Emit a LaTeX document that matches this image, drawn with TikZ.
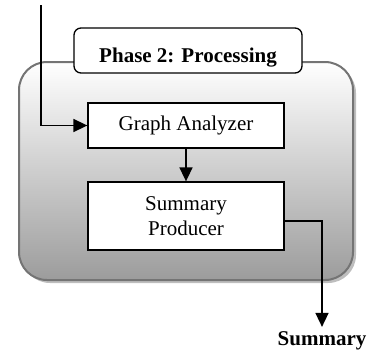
\documentclass[tikz,border=0pt]{standalone}
\usepackage{fontspec}
\setmainfont{Liberation Serif}
\usetikzlibrary{arrows.meta,calc}
\definecolor{phaseborder}{RGB}{116,116,116}
\definecolor{phasebottom}{RGB}{156,156,156}
\definecolor{phaseshadow}{RGB}{190,190,190}
\begin{document}
\begin{tikzpicture}[x=1pt,y=-1pt,
  every node/.style={font=\fontsize{21}{25}\selectfont},
  procbox/.style={draw=black,line width=1.3pt,fill=white,minimum width=196pt,inner sep=2pt},
  titlebox/.style={draw=black,line width=1.3pt,fill=white,rounded corners=7pt,
    minimum width=228pt,minimum height=45pt,inner sep=0pt,text height=28pt,text depth=5pt,
    font=\fontsize{21}{25}\selectfont\bfseries},
  flow/.style={line width=1.6pt,-{Triangle[length=14pt,width=13pt]}},
  plain/.style={line width=1.6pt}]
\useasboundingbox (0,0) rectangle (369,351);
% outer phase container
\fill[phaseshadow,rounded corners=28pt] (22,65) rectangle (356,283);
\shade[top color=white,bottom color=phasebottom,rounded corners=28pt] (19,62) rectangle (353,280);
\draw[phaseborder,line width=2pt,rounded corners=28pt] (19,62) rectangle (353,280);
% title
\node[titlebox] (title) at (188,50.5) {Phase 2: Processing};
% boxes
\node[procbox,minimum height=45pt] (ga) at (186,125.5) {Graph Analyzer};
\node[procbox,minimum height=68pt,align=center] (sp) at (186,216) {Summary\\Producer};
% output label
\node[anchor=base,inner sep=4pt,font=\fontsize{21}{25}\selectfont\bfseries] (sum) at (322,345) {Summary};
% connectors
\coordinate (in) at (41,5);
\coordinate (o1) at (322,221);
\draw[flow] (in) |- (ga.west);
\draw[flow] (ga.south) -- (sp.north);
\draw[flow] (sp.east |- o1) -- (o1) -- (sum.north);
\end{tikzpicture}
\end{document}
